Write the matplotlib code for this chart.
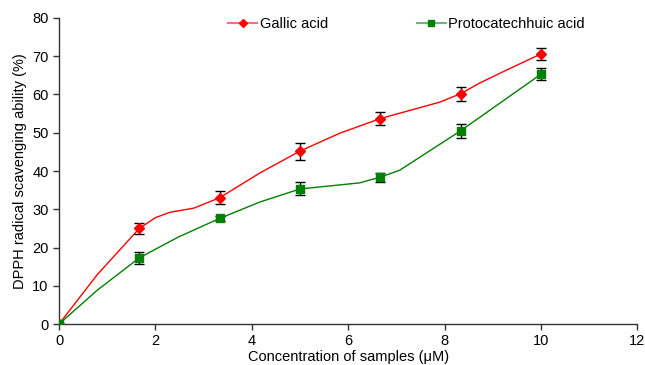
import matplotlib
matplotlib.use("Agg")
import matplotlib.pyplot as plt

plt.rcParams['font.family'] = ['Liberation Sans', 'DejaVu Sans']

# measured points
conc = [0, 1.667, 3.333, 5, 6.667, 8.333, 10]
gallic = [0, 25.0, 33.0, 45.2, 53.7, 60.2, 70.6]
gallic_err = [0, 1.5, 1.7, 2.2, 1.7, 1.8, 1.5]
proto = [0, 17.3, 27.6, 35.3, 38.4, 50.5, 65.3]
proto_err = [0, 1.5, 0.7, 1.7, 1.2, 1.8, 1.5]

# connecting curves (spline look)
gallic_curve_x = [0, 0.8, 1.667, 2.0, 2.3, 2.8, 3.333, 4.17, 5, 5.83, 6.667, 7.9, 8.333, 8.73, 9.29, 10]
gallic_curve_y = [0, 13.0, 25.0, 27.8, 29.2, 30.3, 33.0, 39.5, 45.2, 49.9, 53.7, 58.0, 60.2, 63.0, 66.4, 70.6]
proto_curve_x = [0, 0.8, 1.667, 2.47, 3.333, 4.17, 5, 6.24, 6.667, 7.07, 8.333, 10]
proto_curve_y = [0, 8.9, 17.3, 22.7, 27.6, 31.9, 35.3, 36.9, 38.4, 40.2, 50.5, 65.3]

fig = plt.figure(figsize=(6.45, 3.65), dpi=100)
ax = fig.add_axes([0.0915, 0.1123, 0.8965, 0.8384])

ax.plot(gallic_curve_x, gallic_curve_y, color='red', lw=1.0, zorder=2)
ax.plot(proto_curve_x, proto_curve_y, color='green', lw=1.0, zorder=2)
ax.errorbar(conc, gallic, yerr=gallic_err, fmt='none', ecolor='black', elinewidth=1.0, capsize=3.5, capthick=1.0, zorder=3)
ax.errorbar(conc, proto, yerr=proto_err, fmt='none', ecolor='black', elinewidth=1.0, capsize=3.5, capthick=1.0, zorder=3)
ax.plot(conc, gallic, 'D', color='red', ms=5, zorder=4)
ax.plot(conc, proto, 's', color='green', ms=6, zorder=4)

# legend handles
h1, = ax.plot([], [], '-D', color='#ff7070', ms=4.5, lw=1.5, mfc='red', mec='red')
h2, = ax.plot([], [], '-s', color='#70b870', ms=5, lw=1.5, mfc='green', mec='green')
ax.legend([h1, h2], ['Gallic acid', 'Protocatechhuic acid'], loc='upper left',
          bbox_to_anchor=(0.27, 1.045), ncol=2, frameon=False, fontsize=10.5,
          columnspacing=6.1, handlelength=2.0, handletextpad=0.15)

ax.set_xlim(0, 12)
ax.set_ylim(0, 80)
ax.set_xticks(range(0, 13, 2))
ax.set_yticks(range(0, 81, 10))
ax.spines['top'].set_visible(False)
ax.spines['right'].set_visible(False)
for s in ['left', 'bottom']:
    ax.spines[s].set_color('#333333')
    ax.spines[s].set_linewidth(1.0)
ax.tick_params(direction='out', length=4, width=1, labelsize=10.5, colors='#333333', labelcolor='black')
ax.set_xlabel('Concentration of samples (μM)', fontsize=10.5, labelpad=1)
ax.set_ylabel('DPPH radical scavenging ability (%)', fontsize=10.5, labelpad=4)

fig.savefig('out.png', dpi=100)
